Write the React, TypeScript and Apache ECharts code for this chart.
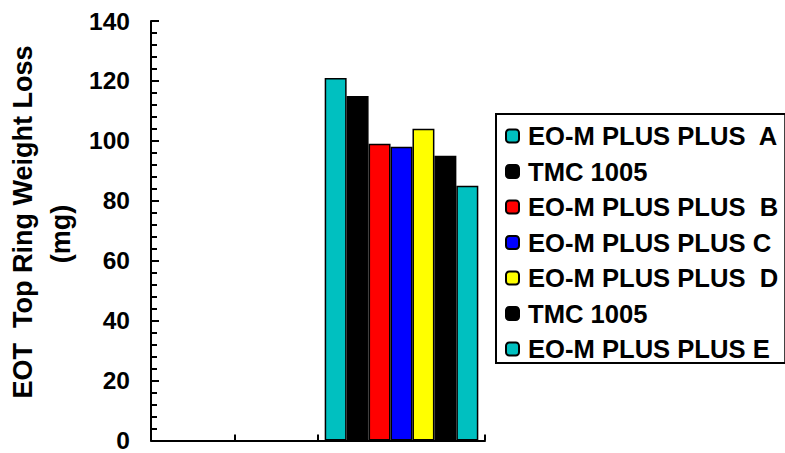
import React, { useEffect, useRef } from "react";
import * as echarts from "echarts";

// Two category slots on the x axis; only the second one holds data.
const xCategories = ["Set 1", "Set 2"];
const legendLabels = [
  "EO-M PLUS PLUS  A",
  "TMC 1005",
  "EO-M PLUS PLUS  B",
  "EO-M PLUS PLUS C",
  "EO-M PLUS PLUS  D",
  "TMC 1005",
  "EO-M PLUS PLUS E",
];
const seriesValues = [121, 115, 99, 98, 104, 95, 85];
const seriesColors = ["#00C0C0", "#000000", "#FF0000", "#0000FF", "#FFFF00", "#000000", "#00C0C0"];
const yTicks = [0, 20, 40, 60, 80, 100, 120, 140];
const yTitle = "EOT  Top Ring Weight Loss";
const yUnit = "(mg)";

const FONT = "'Liberation Sans', Arial, Helvetica, sans-serif";

export default function App() {
  const ref = useRef<HTMLDivElement>(null);

  useEffect(() => {
    if (!ref.current) return;
    const chart = echarts.init(ref.current, undefined, { renderer: "svg" });

    // Legend entries share names, so each series gets a unique key and the
    // legend formatter shows the readable label.
    const keys = legendLabels.map((_, i) => `s${i}`);

    const series = seriesValues.map((v, i) => ({
      type: "bar",
      name: keys[i],
      xAxisIndex: 0,
      yAxisIndex: 0,
      data: xCategories.map((_, ci) => (ci === 1 ? v : null)),
      barGap: "0%",
      barCategoryGap: "8%",
      itemStyle: {
        color: seriesColors[i],
        borderColor: "#000",
        borderWidth: 1.5,
      },
    }));

    const tickStyle = () => ({ color: "#000", width: 2 });

    chart.setOption({
      animation: false,
      backgroundColor: "#fff",
      grid: { left: 151, right: 300, top: 21, bottom: 10, containLabel: false },
      xAxis: [
        {
          // boundary ticks
          type: "category",
          data: xCategories,
          position: "bottom",
          axisLine: { show: true, lineStyle: tickStyle() },
          axisTick: { show: true, inside: true, length: 6, lineStyle: tickStyle() },
          axisLabel: { show: false },
          splitLine: { show: false },
        },
        {
          // mid-category ticks
          type: "category",
          data: xCategories,
          position: "bottom",
          axisLine: { show: false },
          axisTick: {
            show: true,
            inside: true,
            alignWithLabel: true,
            length: 6,
            lineStyle: tickStyle(),
          },
          axisLabel: { show: false },
          splitLine: { show: false },
        },
      ],
      yAxis: {
        type: "value",
        position: "left",
        min: yTicks[0],
        max: yTicks[yTicks.length - 1],
        interval: yTicks[1] - yTicks[0],
        axisLine: { show: true, lineStyle: tickStyle() },
        axisTick: { show: true, inside: true, length: 8, lineStyle: tickStyle() },
        minorTick: { show: true, splitNumber: 5, length: 6, lineStyle: tickStyle() },
        axisLabel: {
          margin: 21,
          color: "#000",
          fontFamily: FONT,
          fontWeight: "bold",
          fontSize: 24.5,
        },
        splitLine: { show: false },
        minorSplitLine: { show: false },
      },
      legend: {
        orient: "vertical",
        left: 496,
        top: 114,
        padding: [9, 7, 1, 9],
        itemWidth: 13,
        itemHeight: 13,
        itemGap: 9.5,
        borderColor: "#000",
        borderWidth: 2,
        backgroundColor: "#fff",
        data: keys,
        formatter: (name: string) => legendLabels[keys.indexOf(name)],
        textStyle: {
          color: "#000",
          fontFamily: FONT,
          fontWeight: "bold",
          fontSize: 25.6,
          lineHeight: 26,
          padding: [0, 0, 0, 4],
        },
      },
      graphic: [
        {
          type: "text",
          x: 23,
          y: 222,
          rotation: Math.PI / 2,
          style: {
            text: yTitle,
            fill: "#000",
            font: `bold 27px ${FONT}`,
            align: "center",
            verticalAlign: "middle",
          },
        },
        {
          type: "text",
          x: 61,
          y: 234,
          rotation: Math.PI / 2,
          style: {
            text: yUnit,
            fill: "#000",
            font: `bold 27px ${FONT}`,
            align: "center",
            verticalAlign: "middle",
          },
        },
      ],
      series,
    });

    return () => chart.dispose();
  }, []);

  return (
    <div
      ref={ref}
      style={{ position: "fixed", left: 0, top: 0, width: 785, height: 453, background: "#fff" }}
    />
  );
}
